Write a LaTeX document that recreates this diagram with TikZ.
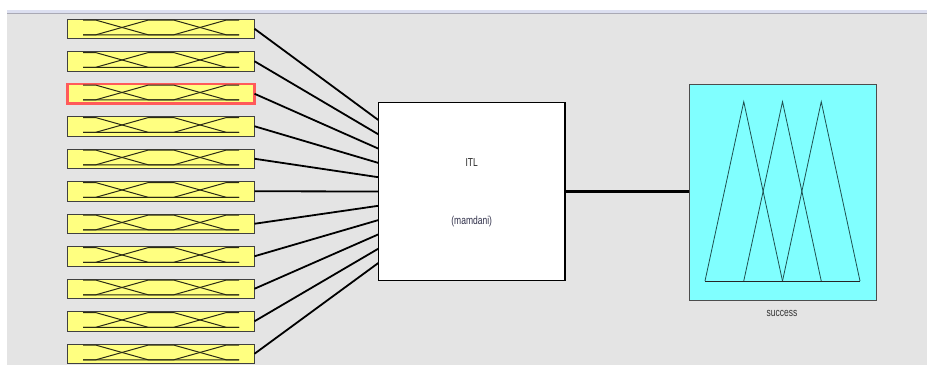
\documentclass[tikz,border=0pt]{standalone}
\usepackage{fontspec}
\setmainfont{Liberation Sans}
\definecolor{bg}{HTML}{E4E4E4}
\definecolor{mfy}{HTML}{FFFF80}
\definecolor{outc}{HTML}{80FFFF}
\definecolor{selred}{HTML}{FF5A5A}
\definecolor{band}{HTML}{DCDFF0}
\definecolor{bandline}{HTML}{A9A9B4}
\definecolor{mfline}{HTML}{2A2A14}
\definecolor{triline}{HTML}{1F5050}
\definecolor{txtblue}{HTML}{30304A}
\tikzset{
  inbox/.style={draw=black!75, line width=0.9pt, fill=mfy, minimum width=187pt,
    minimum height=19.5pt, inner sep=0pt, outer sep=0pt},
  selbox/.style={inbox, draw=selred, line width=2.4pt},
  link/.style={line width=1.8pt, black},
  mf/.style={line width=1pt, mfline},
  sysbox/.style={draw=black, line width=1.5pt, fill=white, minimum width=186.7pt,
    minimum height=178.4pt, inner sep=0pt, outer sep=0pt},
  outbox/.style={draw=black!70, line width=1pt, fill=outc, minimum width=187.4pt,
    minimum height=216pt, inner sep=0pt, outer sep=0pt},
  tri/.style={line width=0.8pt, triline},
  lbl/.style={inner sep=0pt, font=\fontsize{8.5}{10}\selectfont}
}
\begin{document}
\begin{tikzpicture}[x=1pt,y=-1pt]
\useasboundingbox (0,0) rectangle (927,365);
\fill[white] (0,0) rectangle (927,365);
\fill[bg] (7,14) rectangle (927,365);
\fill[band] (7,10) rectangle (927,12.7);
\fill[bandline] (7,12.7) rectangle (927,14);

% central system box
\node[sysbox] (sys) at (471.65,191.5) {};
\node[lbl, text=black!85] (name) at (471.7,162.7) {\scalebox{1}[1.35]{ITL}};
\node[lbl, text=txtblue] (type) at (471.7,221.7) {\scalebox{1}[1.35]{(mamdani)}};

% output box
\node[outbox] (out) at (783,192) {};
\draw[tri] (705,281) -- (743.75,101.7) -- (782.5,281);
\draw[tri] (743.75,281) -- (782.5,101.7) -- (821.25,281);
\draw[tri] (782.5,281) -- (821.25,101.7) -- (860,281);
\draw[line width=1pt, black!85] (705,281) -- (860,281);
\node[lbl, text=black!80] (outname) at (782,313.5) {\scalebox{1}[1.35]{success}};

\draw[line width=2.2pt] (sys.east) -- (out.west |- sys.east);

% inputs
\foreach \i in {1,...,11}{
  \pgfmathsetmacro\cy{28.75+32.5*(\i-1)}
  \pgfmathsetmacro\yt{\cy-8.6}
  \pgfmathsetmacro\yb{\cy+6}
  \pgfmathsetmacro\ey{120+14.3*(\i-1)}
  \def\st{inbox}
  \ifnum\i=3 \def\st{selbox}\fi
  \node[\st] (in\i) at (161,\cy) {};
  \draw[mf] (83,\yt) -- (96,\yt) -- (148,\yb) -- (239,\yb);
  \draw[mf] (83,\yb) -- (96,\yb) -- (148,\yt) -- (174,\yt) -- (226,\yb) -- (239,\yb);
  \draw[mf] (83,\yb) -- (174,\yb) -- (226,\yt) -- (239,\yt);
  \coordinate (e\i) at (sys.west |- 0,\ey);
  \draw[link] (in\i.east) -- (e\i);
}
\end{tikzpicture}
\end{document}
